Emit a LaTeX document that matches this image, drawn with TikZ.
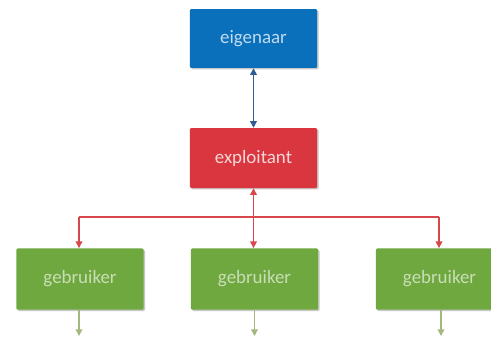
\documentclass[tikz,border=0pt]{standalone}
\usepackage{fontspec}
\setmainfont{Carlito}
\usetikzlibrary{arrows.meta,shadows}
\definecolor{cblue}{HTML}{0A70BC}
\definecolor{cred}{HTML}{D9363F}
\definecolor{cgreen}{HTML}{6FA83F}
\definecolor{lnblue}{HTML}{2F5C94}
\definecolor{lnred}{HTML}{D8474C}
\definecolor{lngreen}{HTML}{A3B87E}
\tikzset{
  px/.style={x=0.75pt,y=-0.75pt},
  softshadow/.style={general shadow={fill=black!22,shadow xshift=1.1pt,shadow yshift=-1.1pt,rounded corners=1pt}},
  box/.style={rectangle,rounded corners=1pt,minimum width=95.5pt,minimum height=45pt,inner sep=0pt,
    font=\fontsize{14.2pt}{16pt}\selectfont,softshadow},
  ownerbox/.style={box,fill=cblue,text=cblue!25!white,minimum height=44.2pt},
  operbox/.style={box,fill=cred,text=cred!20!white},
  userbox/.style={box,fill=cgreen,text=cgreen!38!white,minimum height=46pt},
  tip/.style={-{Triangle[length=5pt,width=5pt]}},
  bothtip/.style={{Triangle[length=5pt,width=5pt]}-{Triangle[length=5pt,width=5pt]}},
  blueline/.style={draw=lnblue,line width=1.1pt,bothtip},
  redline/.style={draw=lnred,line width=1.1pt},
  greenline/.style={draw=lngreen,line width=1pt,tip},
}
\begin{document}
\begin{tikzpicture}[px]
\useasboundingbox (0,0) rectangle (491,340);
\fill[white] (0,0) rectangle (491,340);
% boxes
\node[ownerbox] (own) at (253.5,38.5) {eigenaar};
\node[operbox] (oper) at (253.5,158) {exploitant};
\node[userbox] (u1) at (80,279) {gebruiker};
\node[userbox] (u2) at (254.5,279) {gebruiker};
\node[userbox] (u3) at (439.5,279) {gebruiker};
% free ends
\coordinate (busl) at (79,217);
\coordinate (busr) at (439,217);
\coordinate (e1) at (79,336);
\coordinate (e2) at (254.5,336);
\coordinate (e3) at (441,336);
% connectors
\draw[blueline] (own.south) -- (oper.north);
\draw[redline] (busl) -- (busr);
\draw[redline,bothtip] (oper.south) -- (oper.south |- u2.north);
\draw[redline,tip] (busl) -- (busl |- u1.north);
\draw[redline,tip] (busr) -- (busr |- u3.north);
\draw[greenline] (u1.south -| e1) -- (e1);
\draw[greenline] (u2.south) -- (e2);
\draw[greenline] (u3.south -| e3) -- (e3);
\end{tikzpicture}
\end{document}
